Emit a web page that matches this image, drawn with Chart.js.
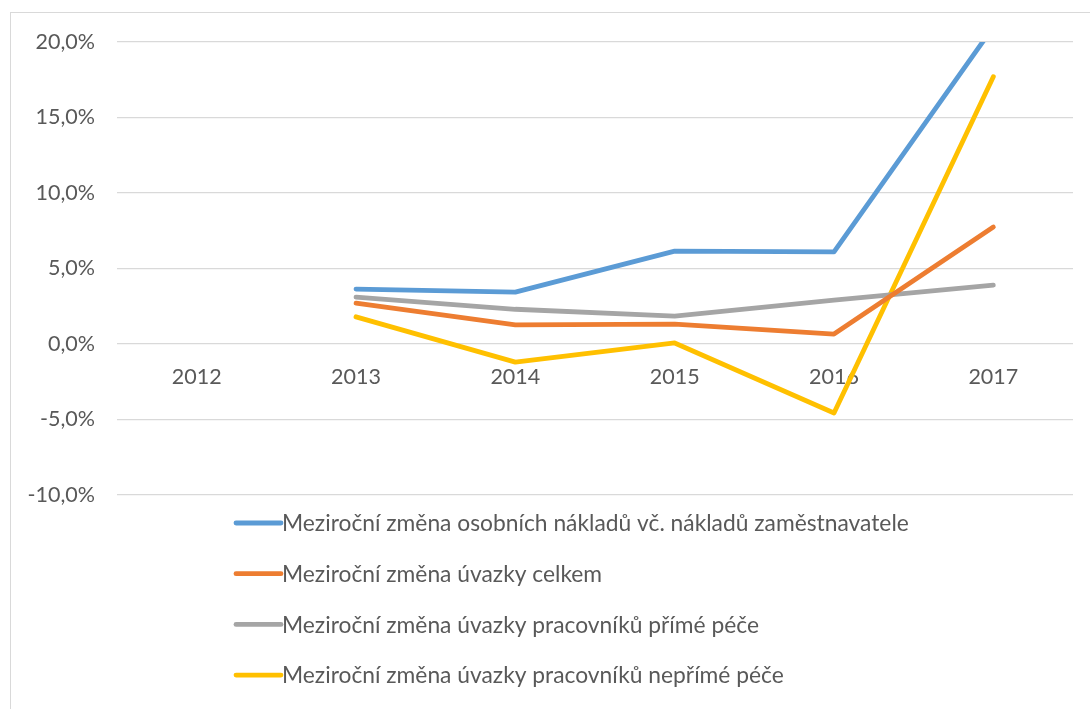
<!DOCTYPE html>
<html>
<head>
<meta charset="utf-8">
<script src="https://cdn.jsdelivr.net/npm/chart.js@4"></script>
<style>
  html, body { margin: 0; padding: 0; background: #fff; }
  #wrap { width: 1090px; height: 709px; }
</style>
</head>
<body>
<div id="wrap"><canvas id="myChart" width="1090" height="709"></canvas></div>
<script>
const years = ["2012", "2013", "2014", "2015", "2016", "2017"]

// values in %, 2012 has no data
const naklady = [null, 3.64, 3.44, 6.15, 6.10, 21.0]
const uvazkyCelkem = [null, 2.70, 1.26, 1.32, 0.66, 7.75]
const primaPece = [null, 3.10, 2.30, 1.85, 2.90, 3.90]
const neprimaPece = [null, 1.80, -1.20, 0.07, -4.57, 17.7]

const seriesNames = [
    "Meziroční změna osobních nákladů vč. nákladů zaměstnavatele",
    "Meziroční změna úvazky celkem",
    "Meziroční změna úvazky pracovníků přímé péče",
    "Meziroční změna úvazky pracovníků nepřímé péče"
]
const colors = ["#5b9bd5", "#ed7d31", "#a5a5a5", "#ffc000"]

const textColor = "#595959"
const fontFamily = "Lato, 'Open Sans', sans-serif"

// frame around the whole chart
const framePlugin = {
    id: "frame",
    beforeDraw(chart) {
        let ctx = chart.ctx
        ctx.save()
        ctx.strokeStyle = "#d9d9d9"
        ctx.lineWidth = 1
        ctx.strokeRect(10.5, 12.5, 1100, 720)
        ctx.restore()
    }
}

// legend stacked vertically below the plot
const stackLegend = {
    id: "stackLegend",
    afterDraw(chart) {
        let ctx = chart.ctx
        let x = 234
        let y = 523
        ctx.save()
        ctx.font = "22.8px " + fontFamily
        ctx.textBaseline = "middle"
        chart.data.datasets.forEach((ds, i) => {
            let yy = y + i * 50.7
            ctx.strokeStyle = ds.borderColor
            ctx.lineWidth = 4.8
            ctx.lineCap = "round"
            ctx.beginPath()
            ctx.moveTo(x + 2, yy)
            ctx.lineTo(x + 47, yy)
            ctx.stroke()
            ctx.fillStyle = textColor
            ctx.fillText(ds.label, x + 48, yy + 1)
        })
        ctx.restore()
    }
}

const makeSet = (label, data, color) => ({
    label: label,
    data: data,
    borderColor: color,
    backgroundColor: color,
    borderWidth: 4.8,
    borderCapStyle: "round",
    borderJoinStyle: "round",
    pointRadius: 0,
    tension: 0,
    fill: false,
    clip: 0
})

new Chart("myChart", {
    type: "line",
    data: {
        labels: years,
        datasets: [
            makeSet(seriesNames[0], naklady, colors[0]),
            makeSet(seriesNames[1], uvazkyCelkem, colors[1]),
            makeSet(seriesNames[2], primaPece, colors[2]),
            makeSet(seriesNames[3], neprimaPece, colors[3])
        ]
    },
    options: {
        responsive: false,
        animation: false,
        layout: {padding: {left: 10, right: 17, top: 42, bottom: 214}},
        plugins: {
            legend: {display: false},
            tooltip: {enabled: false}
        },
        scales: {
            x: {
                position: {y: 0},
                offset: true,
                grid: {display: false, drawTicks: false},
                border: {display: false},
                ticks: {
                    color: textColor,
                    font: {family: fontFamily, size: 21.5},
                    padding: 20,
                    maxRotation: 0
                }
            },
            y: {
                min: -10,
                max: 20,
                afterFit(scale) { scale.width = 107 },
                grid: {color: "#d9d9d9", lineWidth: 1.3, drawTicks: false},
                border: {display: false},
                ticks: {
                    stepSize: 5,
                    color: textColor,
                    font: {family: fontFamily, size: 21.5},
                    padding: 22,
                    callback: v => v.toFixed(1).replace(".", ",") + "%"
                }
            }
        }
    },
    plugins: [framePlugin, stackLegend]
});
</script>
</body>
</html>
